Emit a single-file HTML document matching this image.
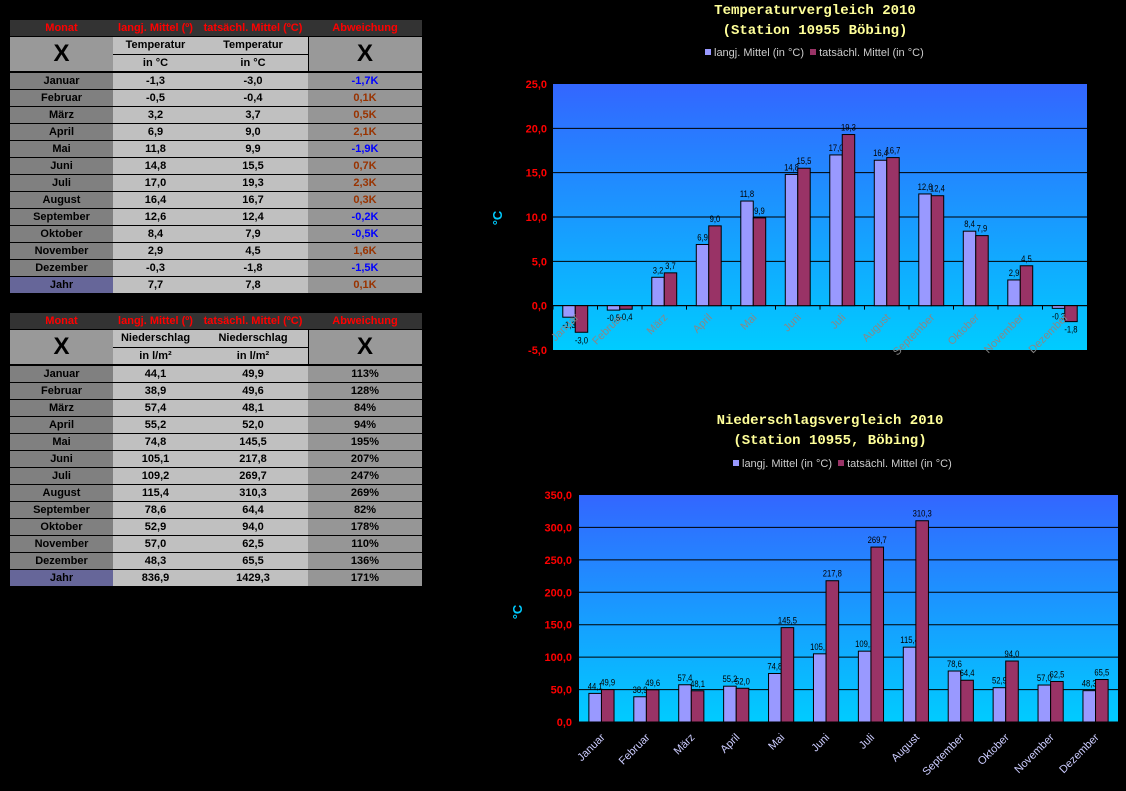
<!DOCTYPE html>
<html><head><meta charset="utf-8"><style>
body{margin:0;width:1126px;height:791px;background:#000;overflow:hidden;font-family:"Liberation Sans",sans-serif;position:relative}
.c{position:absolute;box-sizing:border-box;text-align:center;font-size:11px;font-weight:bold;color:#000;border-right:1px solid #000;border-bottom:1px solid #000;white-space:nowrap;overflow:hidden}
.t{position:absolute;font-family:"Liberation Mono",monospace;font-weight:bold;font-size:14px;color:#ffff99;text-align:center;width:400px}
.lg{position:absolute;font-size:11px;color:#ccc;white-space:nowrap}
.sq{display:inline-block;width:6px;height:6px;margin:0 3px 1px 0}
</style></head><body>
<div id="tables"></div>
<div class="t" style="left:615px;top:3px">Temperaturvergleich 2010</div>
<div class="t" style="left:615px;top:23px">(Station 10955 Böbing)</div>
<div class="lg" style="left:705px;top:47px"><span class="sq" style="background:#9999ff"></span>langj. Mittel (in °C) &nbsp;<span class="sq" style="background:#993366"></span>tatsächl. Mittel (in °C)</div>
<div class="t" style="left:630px;top:413px">Niederschlagsvergleich 2010</div>
<div class="t" style="left:630px;top:433px">(Station 10955, Böbing)</div>
<div class="lg" style="left:733px;top:458px"><span class="sq" style="background:#9999ff"></span>langj. Mittel (in °C) &nbsp;<span class="sq" style="background:#993366"></span>tatsächl. Mittel (in °C)</div>
<svg id="svg" width="1126" height="791" style="position:absolute;left:0;top:0">
<defs>
<linearGradient id="g" x1="0" y1="0" x2="0" y2="1"><stop offset="0" stop-color="#3366ff"/><stop offset="1" stop-color="#00ccff"/></linearGradient>
</defs>
</svg>
<script>
const months=["Januar","Februar","März","April","Mai","Juni","Juli","August","September","Oktober","November","Dezember"];
const tempLong=[-1.3,-0.5,3.2,6.9,11.8,14.8,17.0,16.4,12.6,8.4,2.9,-0.3];
const tempAct=[-3.0,-0.4,3.7,9.0,9.9,15.5,19.3,16.7,12.4,7.9,4.5,-1.8];
const tempDev=["-1,7K","0,1K","0,5K","2,1K","-1,9K","0,7K","2,3K","0,3K","-0,2K","-0,5K","1,6K","-1,5K"];
const rainLong=[44.1,38.9,57.4,55.2,74.8,105.1,109.2,115.4,78.6,52.9,57.0,48.3];
const rainAct=[49.9,49.6,48.1,52.0,145.5,217.8,269.7,310.3,64.4,94.0,62.5,65.5];
const rainDev=["113%","128%","84%","94%","195%","207%","247%","269%","82%","178%","110%","136%"];
const tempTicks=[-5,0,5,10,15,20,25];
const rainTicks=[0,50,100,150,200,250,300,350];
const fmt=v=>v.toFixed(1).replace('.',',');
const tb=document.getElementById('tables');
const cols=[10,113,198,308,422];
function cell(x0,x1,y,h,txt,bg,col,name,fs){
  const d=document.createElement('div');d.className='c';
  
  
  d.style.cssText+=`left:${x0}px;top:${y}px;width:${x1-x0+1}px;height:${h}px;line-height:${h-1}px;background:${bg};color:${col||'#000'};${fs?'font-size:'+fs+'px;':''}`;
  d.textContent=txt;tb.appendChild(d);
}
function table(y0,sub1,sub2,v1,v2,dev,tot,isTemp,pre){
  const hd=["Monat","langj. Mittel (º)","tatsächl. Mittel (ºC)","Abweichung"];
  hd.forEach((h,i)=>cell(cols[i],cols[i+1],y0,17,h,'#333','#ff0000',pre+'-header'));
  cell(cols[0],cols[1],y0+17,35,'X','#999','#000',pre+'-x-left',24);
  cell(cols[3],cols[4],y0+17,35,'X','#999','#000',pre+'-x-right',24);
  [1,2].forEach(i=>{cell(cols[i],cols[i+1],y0+17,18,sub1,'#c0c0c0','#000',pre+'-sub');cell(cols[i],cols[i+1],y0+35,17,sub2,'#c0c0c0','#000',pre+'-sub');});
  const r0=y0+53;
  for(let i=0;i<13;i++){
    const y=r0+i*17;const last=i==12;
    let d=last?tot[2]:dev[i];
    let c='#000';if(isTemp){c=d[0]=='-'?'#0000ff':'#993300';}
    cell(cols[0],cols[1],y,17,last?'Jahr':months[i],last?'#666699':'#808080','#000',pre+'-month');
    cell(cols[1],cols[2],y,17,last?tot[0]:fmt(v1[i]),'#c0c0c0','#000',pre+'-long');
    cell(cols[2],cols[3],y,17,last?tot[1]:fmt(v2[i]),'#c0c0c0','#000',pre+'-act');
    cell(cols[3],cols[4],y,17,d,'#969696',c,pre+'-dev');
  }
}
table(20,'Temperatur','in °C',tempLong,tempAct,tempDev,['7,7','7,8','0,1K'],true,'temp-table');
table(313,'Niederschlag','in l/m²',rainLong,rainAct,rainDev,['836,9','1429,3','171%'],false,'rain-table');

const svg=document.getElementById('svg');const NS='http://www.w3.org/2000/svg';
function el(t,a,txt,name){const e=document.createElementNS(NS,t);for(const k in a)e.setAttribute(k,a[k]);if(txt!=null)e.textContent=txt;svg.appendChild(e);return e;}
function chart(o){
  const {x0,x1,yTop,yBot,min,max,ticks,a,b,pre,labY,labCol,yLabX,titleX,titleY}=o;
  const ys=v=>yBot-(v-min)/(max-min)*(yBot-yTop);
  const gw=(x1-x0)/months.length;
  el('rect',{x:x0,y:yTop,width:x1-x0,height:yBot-yTop,fill:'url(#g)'},null,pre+'-plot-area');
  ticks.forEach(t=>{
    if(t!=min&&t!=max) el('line',{x1:x0,x2:x1,y1:ys(t),y2:ys(t),stroke:'#000','stroke-width':1},null,pre+'-gridline');
    el('text',{x:yLabX,y:ys(t)+4,'text-anchor':'end','font-size':11,'font-weight':'bold',fill:'#ff0000','font-family':'Liberation Sans'},fmt(t),pre+'-y-tick');
  });
  const z=ys(Math.max(min,0));
  el('line',{x1:x0,x2:x1,y1:z,y2:z,stroke:'#000'},null,pre+'-x-axis');
  const bw=gw*0.28;
  months.forEach((m,i)=>{
    const cx=x0+gw*(i+0.5);
    el('line',{x1:x0+gw*i,x2:x0+gw*i,y1:z,y2:z+4,stroke:'#000'},null,pre+'-x-tick');
    [[a[i],'#9999ff',cx-bw,'long'],[b[i],'#993366',cx,'act']].forEach(([v,c,x,n])=>{
      const y=ys(v);
      el('rect',{x:x,y:Math.min(y,z),width:bw,height:Math.abs(z-y),fill:c,stroke:'#000','stroke-width':1},null,pre+'-bar-'+n);
      el('text',{x:x+bw/2,y:v>=0?y-4:y+11,'text-anchor':'middle','font-size':9,fill:'#000','font-family':'Liberation Sans',transform:`scale(0.85,1) translate(${(x+bw/2)*(1/0.85-1)},0)`},fmt(v),pre+'-value-label');
    });
    const lx=cx+4,ly=labY;
    el('text',{x:lx,y:ly,'text-anchor':'end','font-size':11,fill:labCol,'font-family':'Liberation Sans',transform:`rotate(-45 ${lx} ${ly})`},m,pre+'-x-label');
  });
  el('text',{x:titleX,y:titleY,'text-anchor':'middle','font-size':13,'font-weight':'bold',fill:'#00ccff','font-family':'Liberation Sans',transform:`rotate(-90 ${titleX} ${titleY})`},'°C',pre+'-y-title');
}
chart({x0:553,x1:1087,yTop:84,yBot:350,min:-5,max:25,ticks:tempTicks,a:tempLong,b:tempAct,pre:'temp',labY:318,labCol:'#888',yLabX:547,titleX:502,titleY:218});
chart({x0:579,x1:1118,yTop:495,yBot:722,min:0,max:350,ticks:rainTicks,a:rainLong,b:rainAct,pre:'rain',labY:738,labCol:'#ccccff',yLabX:572,titleX:522,titleY:612});
</script>
</body></html>
